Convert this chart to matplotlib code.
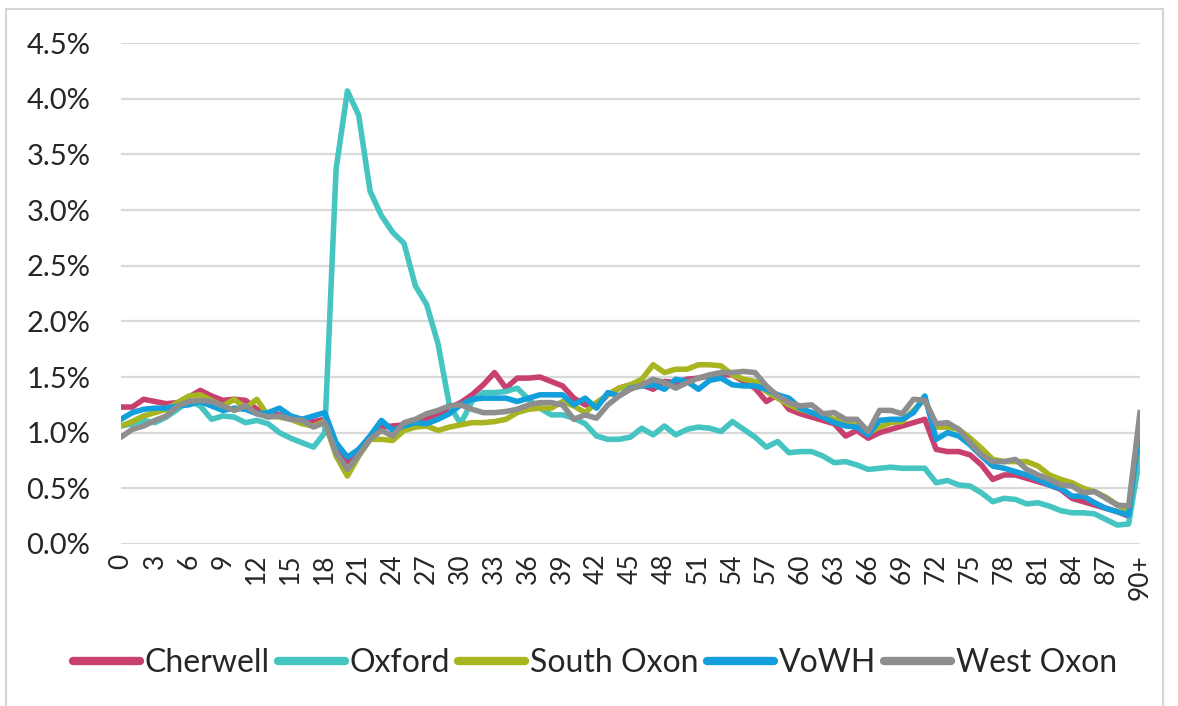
import matplotlib
matplotlib.use("Agg")
import matplotlib.pyplot as plt
from matplotlib.patches import Rectangle
from matplotlib.ticker import FuncFormatter, MultipleLocator

plt.rcParams['font.family'] = ['Lato', 'DejaVu Sans']

ages = [str(a) for a in range(90)] + ['90+']
tick_labels = [str(a) for a in range(0, 90, 3)] + ['90+']

cherwell = [1.23, 1.23, 1.30, 1.28, 1.26, 1.27, 1.32, 1.38, 1.33, 1.29,
            1.30, 1.29, 1.21, 1.17, 1.16, 1.14, 1.12, 1.10, 1.12, 0.88,
            0.74, 0.85, 0.95, 1.05, 1.06, 1.07, 1.10, 1.13, 1.17, 1.22,
            1.27, 1.34, 1.43, 1.54, 1.40, 1.49, 1.49, 1.50, 1.46, 1.42,
            1.31, 1.25, 1.24, 1.34, 1.40, 1.43, 1.43, 1.39, 1.46, 1.45,
            1.48, 1.49, 1.51, 1.52, 1.52, 1.46, 1.40, 1.28, 1.34, 1.21,
            1.17, 1.14, 1.11, 1.08, 0.97, 1.02, 0.95, 1.00, 1.03, 1.06,
            1.09, 1.12, 0.85, 0.83, 0.83, 0.80, 0.71, 0.58, 0.62, 0.62,
            0.59, 0.56, 0.53, 0.49, 0.41, 0.38, 0.35, 0.32, 0.29, 0.25,
            0.86]

oxford = [1.06, 1.08, 1.11, 1.09, 1.14, 1.21, 1.29, 1.24, 1.12, 1.15,
          1.14, 1.09, 1.11, 1.08, 1.00, 0.95, 0.91, 0.87, 1.00, 3.37,
          4.07, 3.85, 3.17, 2.95, 2.80, 2.70, 2.32, 2.15, 1.80, 1.25,
          1.08, 1.28, 1.36, 1.36, 1.37, 1.40, 1.30, 1.22, 1.16, 1.16,
          1.13, 1.08, 0.97, 0.94, 0.94, 0.96, 1.04, 0.98, 1.06, 0.98,
          1.03, 1.05, 1.04, 1.01, 1.10, 1.03, 0.96, 0.87, 0.92, 0.82,
          0.83, 0.83, 0.79, 0.73, 0.74, 0.71, 0.67, 0.68, 0.69, 0.68,
          0.68, 0.68, 0.55, 0.57, 0.53, 0.52, 0.46, 0.38, 0.41, 0.40,
          0.36, 0.37, 0.34, 0.30, 0.28, 0.28, 0.27, 0.22, 0.17, 0.18,
          0.79]

south_oxon = [1.06, 1.10, 1.15, 1.18, 1.21, 1.27, 1.33, 1.34, 1.29, 1.24,
              1.30, 1.22, 1.30, 1.15, 1.14, 1.12, 1.08, 1.06, 1.10, 0.79,
              0.61, 0.79, 0.94, 0.94, 0.93, 1.02, 1.05, 1.06, 1.02, 1.05,
              1.07, 1.09, 1.09, 1.10, 1.12, 1.18, 1.21, 1.22, 1.22, 1.28,
              1.24, 1.18, 1.27, 1.34, 1.40, 1.43, 1.48, 1.61, 1.54, 1.57,
              1.57, 1.61, 1.61, 1.60, 1.52, 1.48, 1.46, 1.37, 1.31, 1.25,
              1.21, 1.18, 1.15, 1.12, 1.10, 1.08, 1.00, 1.05, 1.09, 1.10,
              1.20, 1.30, 1.05, 1.05, 1.03, 0.95, 0.86, 0.76, 0.74, 0.74,
              0.74, 0.70, 0.62, 0.58, 0.55, 0.50, 0.47, 0.42, 0.35, 0.30,
              1.05]

vowh = [1.12, 1.18, 1.21, 1.22, 1.22, 1.24, 1.25, 1.28, 1.24, 1.20,
        1.22, 1.21, 1.17, 1.18, 1.22, 1.15, 1.12, 1.15, 1.18, 0.91,
        0.78, 0.85, 0.97, 1.11, 1.02, 1.06, 1.09, 1.08, 1.12, 1.17,
        1.25, 1.30, 1.31, 1.31, 1.31, 1.28, 1.31, 1.34, 1.34, 1.34,
        1.25, 1.31, 1.22, 1.36, 1.33, 1.40, 1.42, 1.43, 1.39, 1.48,
        1.46, 1.39, 1.47, 1.49, 1.43, 1.42, 1.42, 1.39, 1.34, 1.31,
        1.22, 1.18, 1.14, 1.09, 1.06, 1.05, 0.98, 1.11, 1.12, 1.12,
        1.18, 1.33, 0.94, 1.00, 0.97, 0.89, 0.79, 0.70, 0.68, 0.65,
        0.62, 0.58, 0.53, 0.50, 0.43, 0.43, 0.37, 0.32, 0.29, 0.26,
        1.08]

west_oxon = [0.96, 1.03, 1.06, 1.11, 1.15, 1.24, 1.28, 1.29, 1.28, 1.24,
             1.20, 1.24, 1.17, 1.14, 1.15, 1.12, 1.11, 1.05, 1.09, 0.82,
             0.67, 0.80, 0.94, 1.02, 0.97, 1.09, 1.12, 1.17, 1.20, 1.24,
             1.25, 1.21, 1.18, 1.18, 1.19, 1.21, 1.25, 1.27, 1.27, 1.25,
             1.12, 1.16, 1.13, 1.25, 1.33, 1.39, 1.43, 1.48, 1.45, 1.40,
             1.45, 1.49, 1.52, 1.54, 1.54, 1.55, 1.54, 1.42, 1.33, 1.27,
             1.24, 1.25, 1.17, 1.18, 1.12, 1.12, 1.01, 1.20, 1.20, 1.17,
             1.30, 1.29, 1.08, 1.09, 1.03, 0.91, 0.80, 0.74, 0.74, 0.76,
             0.67, 0.62, 0.58, 0.53, 0.52, 0.46, 0.47, 0.41, 0.35, 0.34,
             1.18]

series = [
    ("Cherwell", cherwell, "#C8406F"),
    ("Oxford", oxford, "#45C4C2"),
    ("South Oxon", south_oxon, "#A8B520"),
    ("VoWH", vowh, "#129FDC"),
    ("West Oxon", west_oxon, "#8E8E8E"),
]

fig = plt.figure(figsize=(11.78, 7.06), dpi=100)
ax = fig.add_axes([0.1027, 0.2295, 0.8650, 0.7095])

x = list(range(len(ages)))
for name, vals, col in series:
    ax.plot(x, vals, color=col, lw=4.0, label=name, solid_joinstyle='round')

ax.set_xlim(0, len(ages) - 1)
ax.set_ylim(0, 4.5)
ax.yaxis.set_major_locator(MultipleLocator(0.5))
ax.yaxis.set_major_formatter(FuncFormatter(lambda v, p: f"{v:.1f}%"))
ax.set_xticks(list(range(0, 90, 3)) + [90])
ax.set_xticklabels(tick_labels, rotation=90)

ax.grid(axis='y', color='#D9D9D9', lw=1.6)
ax.set_axisbelow(True)
for s in ax.spines.values():
    s.set_visible(False)
ax.tick_params(axis='y', length=0, pad=22, labelsize=21, labelcolor='#262626')
ax.tick_params(axis='x', length=0, pad=7, labelsize=19, labelcolor='#262626')

fig.legend(loc='center', bbox_to_anchor=(0.505, 0.061), ncol=5, frameon=False,
           fontsize=23, handlelength=2.1, handletextpad=0.15, columnspacing=0.25,
           labelcolor='#262626')
for line in fig.legends[0].get_lines():
    line.set_linewidth(6)
    line.set_solid_capstyle('round')

fig.patches.append(Rectangle((6 / 1178, -0.05), 1157 / 1178, 1 - 9 / 706 + 0.05,
                             transform=fig.transFigure, fill=False,
                             edgecolor='#D4D4D4', lw=1.5))

fig.savefig("out.png", dpi=100, facecolor='white')
